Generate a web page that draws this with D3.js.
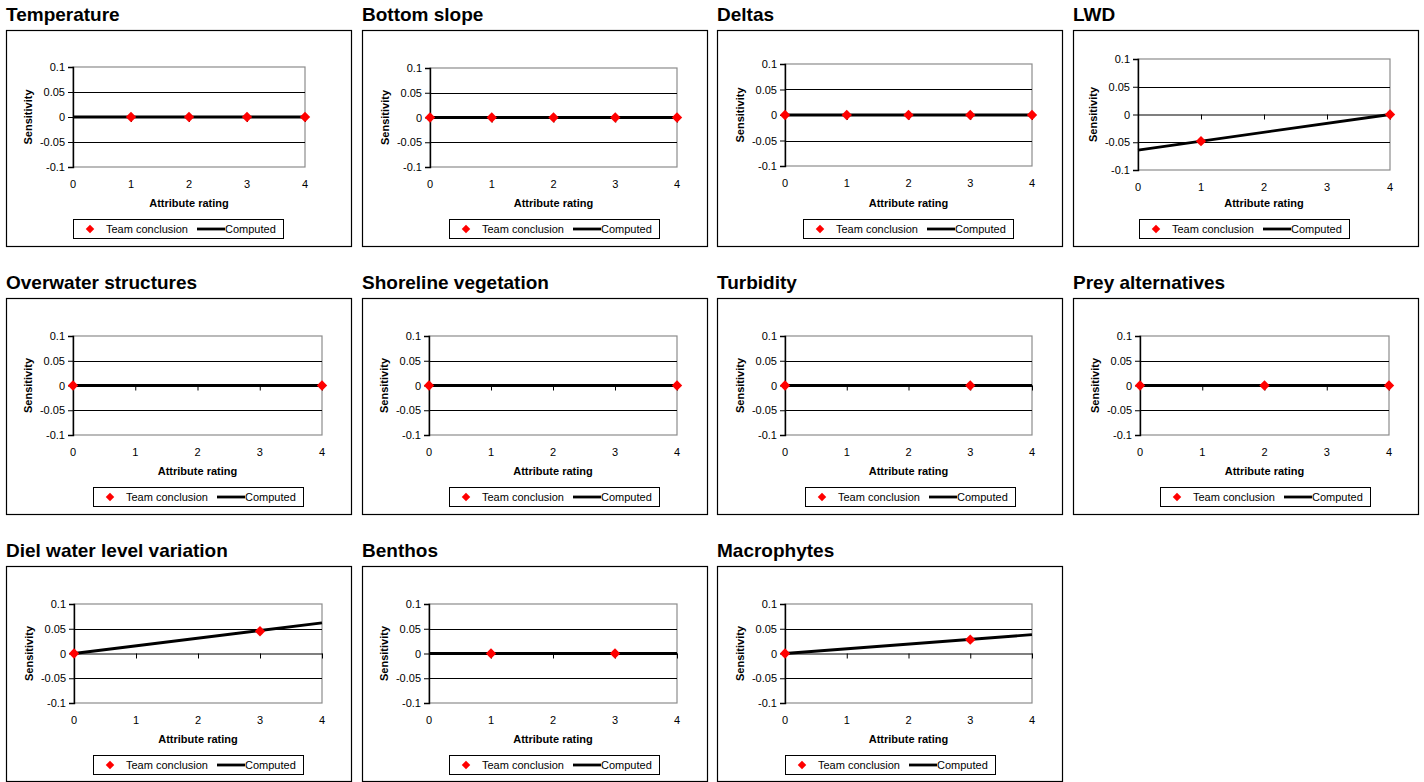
<!DOCTYPE html>
<html>
<head>
<meta charset="utf-8">
<script src="https://cdn.jsdelivr.net/npm/d3@7"></script>
<style>
  html, body { margin: 0; padding: 0; background: #fff; }
  svg { display: block; font-family: "Liberation Sans", Arial, sans-serif; }
</style>
</head>
<body>
<svg id="chart" width="1424" height="782"></svg>
<script>
// ---------- DATA ----------
const panelTitles = ["Temperature", "Bottom slope", "Deltas", "LWD",
  "Overwater structures", "Shoreline vegetation", "Turbidity", "Prey alternatives",
  "Diel water level variation", "Benthos", "Macrophytes"];
const teamRatings = [[1, 2, 3, 4], [0, 1, 2, 3, 4], [0, 1, 2, 3, 4], [1, 4],
  [0, 4], [0, 4], [0, 3], [0, 2, 4],
  [0, 3], [1, 3], [0, 3]];
const teamSensitivity = [[0, 0, 0, 0], [0, 0, 0, 0, 0], [0, 0, 0, 0, 0], [-0.048, 0],
  [0, 0], [0, 0], [0, 0], [0, 0, 0],
  [0, 0.045], [0, 0], [0, 0.028]];
const computedRatings = [0, 4];
const computedSensitivity = [[0, 0], [0, 0], [0, 0], [-0.064, 0],
  [0, 0], [0, 0], [0, 0], [0, 0],
  [0, 0.062], [0, 0], [0, 0.038]];
const xTicks = [0, 1, 2, 3, 4];
const yTicks = [-0.1, -0.05, 0, 0.05, 0.1];
const yTickLabels = ["-0.1", "-0.05", "0", "0.05", "0.1"];
const legendLabels = ["Team conclusion", "Computed"];
const xAxisTitle = "Attribute rating";
const yAxisTitle = "Sensitivity";

// ---------- LAYOUT ----------
const colX = [6, 362, 717, 1073];
const rowY = [30, 298, 566];
const boxW = 345, boxH = 216;
// plot rect relative to box: [left, right, top, bottom], legend x offset
const plotRects = [
  [67, 299, 37, 137, 67], [68, 315, 38, 137, 87], [68, 315, 34, 136, 86], [65, 317, 29, 140, 66],
  [67, 316, 38, 137, 87], [67, 315, 38, 137, 87], [68, 315, 38, 137, 88], [67, 316, 38, 137, 87],
  [68, 316, 38, 137, 87], [67, 315, 38, 137, 87], [68, 315, 38, 137, 68]
];

const svg = d3.select("#chart");
const diamond = d3.symbol().type(d3.symbolSquare).size(54);
const diamondSmall = d3.symbol().type(d3.symbolSquare).size(36);

panelTitles.forEach((title, i) => {
  const bx = colX[i % 4], by = rowY[Math.floor(i / 4)];
  const h = i >= 8 ? 215 : boxH;
  const [pl, pr, pt, pb, lx] = plotRects[i];

  svg.append("text")
    .attr("x", bx).attr("y", by - 9)
    .attr("font-size", 19).attr("font-weight", "bold").attr("fill", "#000")
    .text(title);

  const g = svg.append("g").attr("transform", `translate(${bx},${by})`);
  g.append("rect").attr("x", 0.5).attr("y", 0.5).attr("width", boxW).attr("height", h)
    .attr("fill", "#fff").attr("stroke", "#000").attr("stroke-width", 1.2);

  const x = d3.scaleLinear().domain([0, 4]).range([pl, pr]);
  const y = d3.scaleLinear().domain([-0.1, 0.1]).range([pb, pt]);

  // plot area border (gray)
  g.append("rect").attr("x", pl).attr("y", pt).attr("width", pr - pl).attr("height", pb - pt)
    .attr("fill", "#fff").attr("stroke", "#8c8c8c").attr("stroke-width", 1.2);

  // gridlines
  g.append("g").selectAll("line").data(yTicks.filter(v => v !== 0 && v !== 0.1 && v !== -0.1))
    .join("line")
    .attr("x1", pl).attr("x2", pr)
    .attr("y1", d => Math.round(y(d)) + 0.5).attr("y2", d => Math.round(y(d)) + 0.5)
    .attr("stroke", "#000").attr("stroke-width", 1);

  // y axis
  const yAxis = d3.axisLeft(y).tickValues(yTicks).tickSize(5).tickPadding(3)
    .tickFormat((d, k) => yTickLabels[k]);
  const ya = g.append("g").attr("transform", `translate(${pl},0)`).call(yAxis);
  ya.select(".domain").attr("stroke", "#000").attr("stroke-width", 1.4);
  ya.selectAll(".tick line").attr("stroke", "#000");
  ya.selectAll("text").attr("font-size", 11).attr("fill", "#000")
    .attr("font-family", "'Liberation Sans', Arial, sans-serif");

  // x axis at zero
  const xAxis = d3.axisBottom(x).tickValues(xTicks).tickSize(5).tickSizeOuter(0).tickFormat("");
  const xa = g.append("g").attr("transform", `translate(0,${y(0)})`).call(xAxis);
  xa.select(".domain").attr("stroke", "#000").attr("stroke-width", 1.2);
  xa.selectAll(".tick line").attr("stroke", "#000");

  // x tick labels at bottom
  g.append("g").selectAll("text").data(xTicks).join("text")
    .attr("x", d => x(d)).attr("y", pb + 21)
    .attr("text-anchor", "middle").attr("font-size", 11).attr("fill", "#000")
    .text(d => d);

  // axis titles
  g.append("text").attr("x", (pl + pr) / 2).attr("y", 177)
    .attr("text-anchor", "middle").attr("font-size", 11).attr("font-weight", "bold")
    .text(xAxisTitle);
  g.append("text")
    .attr("transform", `translate(${pl - 41},${(pt + pb) / 2}) rotate(-90)`)
    .attr("text-anchor", "middle").attr("font-size", 11).attr("font-weight", "bold")
    .text(yAxisTitle);

  // computed line
  const line = d3.line().x(d => x(d[0])).y(d => y(d[1]));
  g.append("path")
    .datum(computedRatings.map((r, k) => [r, computedSensitivity[i][k]]))
    .attr("d", line).attr("fill", "none").attr("stroke", "#000").attr("stroke-width", 2.8);

  // team points
  g.append("g").selectAll("path")
    .data(teamRatings[i].map((r, k) => [r, teamSensitivity[i][k]]))
    .join("path")
    .attr("d", diamond)
    .attr("transform", d => `translate(${x(d[0])},${y(d[1])}) rotate(45)`)
    .attr("fill", "#ff0000");

  // legend
  const lg = g.append("g").attr("transform", `translate(${lx},189)`);
  lg.append("rect").attr("x", 0.5).attr("y", 0.5).attr("width", 210).attr("height", 19)
    .attr("fill", "#fff").attr("stroke", "#000").attr("stroke-width", 1);
  lg.append("path").attr("d", diamondSmall)
    .attr("transform", "translate(17,10) rotate(45)").attr("fill", "#ff0000");
  lg.append("text").attr("x", 33).attr("y", 14).attr("font-size", 11).text(legendLabels[0]);
  lg.append("line").attr("x1", 124).attr("x2", 152).attr("y1", 10).attr("y2", 10)
    .attr("stroke", "#000").attr("stroke-width", 2.8);
  lg.append("text").attr("x", 152).attr("y", 14).attr("font-size", 11).text(legendLabels[1]);
});
</script>
</body>
</html>
